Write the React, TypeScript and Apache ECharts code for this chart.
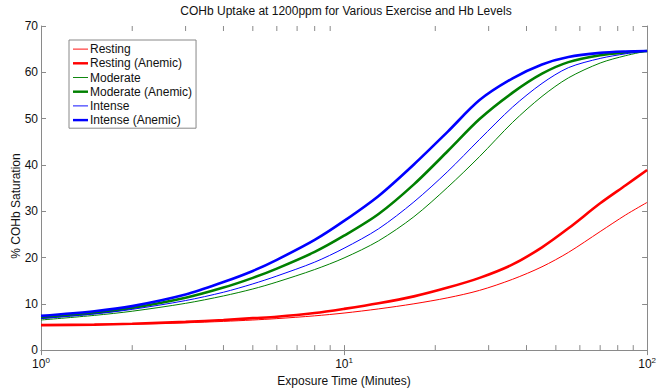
import React, { useEffect, useRef } from "react";
import * as echarts from "echarts";

const times = [1, 1.5, 2, 3, 4, 5, 6, 8, 10, 13, 17, 22, 28, 36, 45, 55, 70, 85, 100];
const resting = [5.4, 5.5, 5.6, 5.9, 6.2, 6.5, 6.8, 7.4, 8.0, 8.9, 10.0, 11.3, 12.9, 15.3, 18.0, 21.1, 25.6, 29.2, 31.9];
const restingAnemic = [5.4, 5.5, 5.7, 6.1, 6.5, 6.9, 7.2, 8.0, 8.9, 10.1, 11.6, 13.5, 15.6, 18.5, 22.2, 26.3, 31.7, 35.6, 38.9];
const moderate = [6.5, 7.5, 8.4, 10.1, 11.7, 13.2, 14.7, 17.4, 19.9, 23.6, 28.8, 35.2, 41.8, 49.2, 54.8, 58.8, 62.0, 63.6, 64.6];
const moderateAnemic = [7.0, 8.0, 9.1, 11.3, 13.5, 15.6, 17.6, 21.2, 24.7, 29.4, 35.8, 43.0, 49.9, 55.6, 59.7, 62.2, 63.7, 64.3, 64.6];
const intense = [6.8, 7.8, 8.8, 10.7, 12.5, 14.3, 16.0, 19.0, 22.0, 26.2, 32.0, 38.6, 45.5, 52.5, 57.6, 61.0, 63.0, 64.0, 64.6];
const intenseAnemic = [7.4, 8.4, 9.5, 12.0, 14.7, 17.1, 19.5, 23.8, 27.9, 33.3, 40.1, 47.2, 54.0, 58.7, 61.7, 63.3, 64.2, 64.5, 64.6];

const minorTicks = [2, 3, 4, 5, 6, 7, 8, 9, 20, 30, 40, 50, 60, 70, 80, 90];
const yMin = 0;
const yMax = 70;

const THIN_ICON = "path://M0,0H16V1H0Z";
const THICK_ICON = "path://M0,0H16V2.6H0Z";

const seriesDefs = [
  { name: "Resting", data: resting, color: "#ff0000", width: 1, icon: THIN_ICON },
  { name: "Resting (Anemic)", data: restingAnemic, color: "#ff0000", width: 2.6, icon: THICK_ICON },
  { name: "Moderate", data: moderate, color: "#008000", width: 1, icon: THIN_ICON },
  { name: "Moderate (Anemic)", data: moderateAnemic, color: "#008000", width: 2.6, icon: THICK_ICON },
  { name: "Intense", data: intense, color: "#0000ff", width: 1, icon: THIN_ICON },
  { name: "Intense (Anemic)", data: intenseAnemic, color: "#0000ff", width: 2.6, icon: THICK_ICON },
];

const AXIS_COLOR = "#8a8a8a";
const FONT = "Liberation Sans, Arial, sans-serif";

export default function App() {
  const ref = useRef<HTMLDivElement>(null);
  useEffect(() => {
    document.body.style.margin = "0";
    if (!ref.current) return;
    const chart = echarts.init(ref.current, null, { renderer: "svg" });
    const axisCommon = {
      axisLine: { show: true, lineStyle: { color: AXIS_COLOR, width: 1 } },
      axisTick: { show: true, inside: true, length: 5, lineStyle: { color: AXIS_COLOR } },
      splitLine: { show: false },
    };
    chart.setOption({
      animation: false,
      title: {
        text: "COHb Uptake at 1200ppm for Various Exercise and Hb Levels",
        left: 346,
        textAlign: "center",
        top: 5,
        padding: 0,
        textStyle: { fontFamily: FONT, fontSize: 12, fontWeight: "normal", color: "#111" },
      },
      legend: {
        data: seriesDefs.map((s) => ({ name: s.name, icon: s.icon })),
        orient: "vertical",
        left: 69,
        top: 40,
        padding: [2, 4, 1, 4],
        itemGap: 0,
        itemWidth: 15,
        itemHeight: 10,
        borderColor: "#888",
        borderWidth: 1,
        backgroundColor: "#fff",
        itemStyle: { borderWidth: 0 },
        textStyle: { fontFamily: FONT, fontSize: 12, color: "#111", lineHeight: 14.2, padding: [0, 0, 0, -3] },
      },
      grid: { left: 41, right: 8, top: 26, bottom: 37, containLabel: false },
      xAxis: [
        {
          type: "log",
          logBase: 10,
          min: 1,
          max: 100,
          position: "bottom",
          ...axisCommon,
          name: "Exposure Time (Minutes)",
          nameLocation: "middle",
          nameGap: 23,
          nameTextStyle: { fontFamily: FONT, fontSize: 12, color: "#111" },
          axisLabel: {
            margin: 6,
            formatter: (v: number) => "{b|10}{s|" + Math.round(Math.log10(v)) + "}",
            rich: {
              b: { fontFamily: FONT, fontSize: 12, color: "#111" },
              s: { fontFamily: FONT, fontSize: 8, color: "#111", padding: [0, 0, 8, 0] },
            },
          },
        },
        {
          type: "log",
          logBase: 10,
          min: 1,
          max: 100,
          position: "top",
          ...axisCommon,
          axisLabel: { show: false },
        },
      ],
      yAxis: [
        {
          type: "value",
          min: yMin,
          max: yMax,
          interval: 10,
          position: "left",
          ...axisCommon,
          axisLabel: { margin: 3, fontFamily: FONT, fontSize: 12, color: "#111" },
        },
        {
          type: "value",
          min: yMin,
          max: yMax,
          interval: 10,
          position: "right",
          ...axisCommon,
          axisLabel: { show: false },
        },
      ],
      graphic: [
        {
          type: "text",
          x: 16,
          y: 206,
          rotation: Math.PI / 2,
          style: {
            text: "% COHb Saturation",
            fontFamily: FONT,
            fontSize: 12,
            fill: "#111",
            align: "center",
            verticalAlign: "middle",
          },
        },
      ],
      series: [
        ...seriesDefs.map((s) => ({
          name: s.name,
          type: "line",
          xAxisIndex: 0,
          yAxisIndex: 0,
          data: times.map((t, i) => [t, s.data[i]]),
          symbol: "none",
          smooth: 0.3,
          lineStyle: { color: s.color, width: s.width },
          itemStyle: { color: s.color, borderWidth: 0 },
          silent: true,
        })),
        {
          name: "minorTicks",
          type: "custom",
          xAxisIndex: 0,
          yAxisIndex: 0,
          silent: true,
          data: minorTicks.map((v) => [v, yMin]),
          renderItem: (params: any, api: any) => {
            const v = api.value(0);
            const pb = api.coord([v, yMin]);
            const pt = api.coord([v, yMax]);
            const style = { stroke: AXIS_COLOR, lineWidth: 1 };
            return {
              type: "group",
              children: [
                { type: "line", shape: { x1: pb[0], y1: pb[1], x2: pb[0], y2: pb[1] - 5 }, style },
                { type: "line", shape: { x1: pt[0], y1: pt[1], x2: pt[0], y2: pt[1] + 5 }, style },
              ],
            };
          },
        },
      ],
    });
    return () => chart.dispose();
  }, []);
  return <div ref={ref} style={{ width: 659, height: 392 }} />;
}
